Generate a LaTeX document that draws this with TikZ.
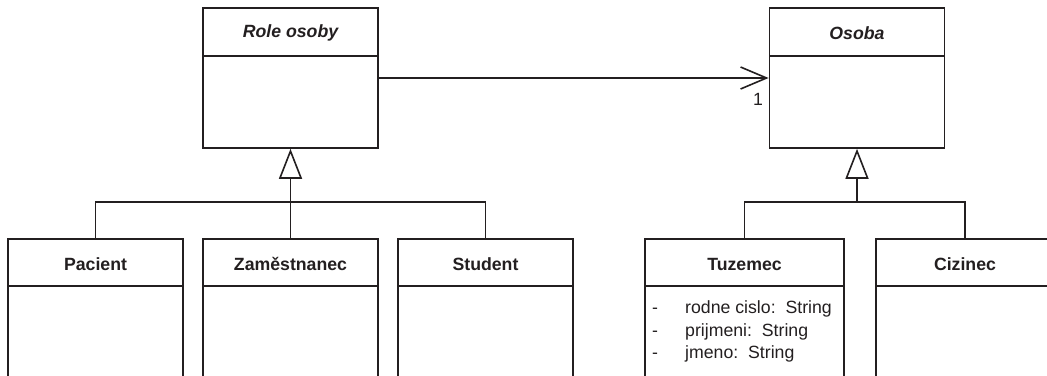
\documentclass[tikz,border=0pt]{standalone}
\usepackage{fontspec}
\setmainfont{Liberation Sans}
\usetikzlibrary{arrows.meta}
\definecolor{ink}{HTML}{231F20}
\begin{document}
\begin{tikzpicture}[x=1pt,y=-1pt,
  every node/.style={font=\fontsize{17.7}{21}\selectfont, text=ink},
  classbox/.style={draw=ink, line width=1.8pt, minimum width=#1, inner sep=0pt, anchor=north},
  classbox/.default=175pt,
  divider/.style={draw=ink, line width=1.8pt},
  link/.style={draw=ink, line width=1.6pt},
  gen/.style={link, -{Triangle[open, length=30pt, width=23pt, fill=white]}},
  assoc/.style={link, -{Straight Barb[length=26pt, width=22pt]}},
  title/.style={font=\fontsize{17.7}{21}\selectfont\bfseries},
  abstitle/.style={font=\fontsize{17.7}{21}\selectfont\bfseries\itshape},
  attr/.style={anchor=base west, inner sep=0pt}
]
\useasboundingbox (0,0) rectangle (1047,375);
\clip (0,0) rectangle (1047,375);
\fill[white] (0,0) rectangle (1047,375);

% abstract parents
\node[classbox, minimum height=140pt] (role) at (290.5,7) {};
\draw[divider] (203,56) -- (378,56);
\node[abstitle] at (290.5,33) {Role osoby};

\node[classbox, minimum height=140pt] (osoba) at (857,7) {};
\draw[divider] (769,56) -- (945,56);
\node[abstitle] at (857,33) {Osoba};

% association
\draw[assoc] (role.east |- 0,78) -- (osoba.west |- 0,78);
\node at (758,99) {1};

% role subclasses
\node[classbox, minimum height=170pt] (pac) at (95.5,238) {};
\draw[divider] (8,286) -- (183,286);
\node[title] at (95.5,264) {Pacient};

\node[classbox, minimum height=170pt] (zam) at (290.5,238) {};
\draw[divider] (203,286) -- (378,286);
\node[title] at (290.5,264) {Zaměstnanec};

\node[classbox, minimum height=170pt] (stu) at (485.5,238) {};
\draw[divider] (398,286) -- (573,286);
\node[title] at (485.5,264) {Student};

% person subclasses
\node[classbox=199pt, minimum height=170pt] (tuz) at (744.5,238) {};
\draw[divider] (645,286) -- (844,286);
\node[title] at (744.5,264) {Tuzemec};

\node[classbox=178pt, minimum height=170pt] (ciz) at (965,238) {};
\draw[divider] (876,286) -- (1054,286);
\node[title] at (965,264) {Cizinec};

% attributes
\node[attr] at (652,313) {-};
\node[attr] at (685,313) {rodne cislo:\ \ String};
\node[attr] at (652,336) {-};
\node[attr] at (685,336) {prijmeni:\ \ String};
\node[attr] at (652,358) {-};
\node[attr] at (685,358) {jmeno:\ \ String};

% generalisation trees
\coordinate (jr) at (290.5,202);
\draw[link] (pac.north) |- (jr) -| (stu.north);
\draw[link] (zam.north) -- (jr);
\draw[gen] (jr) -- (role.south);

\coordinate (jo) at (857,202);
\draw[link] (tuz.north) |- (jo) -| (ciz.north);
\draw[gen] (jo) -- (osoba.south);
\end{tikzpicture}
\end{document}
